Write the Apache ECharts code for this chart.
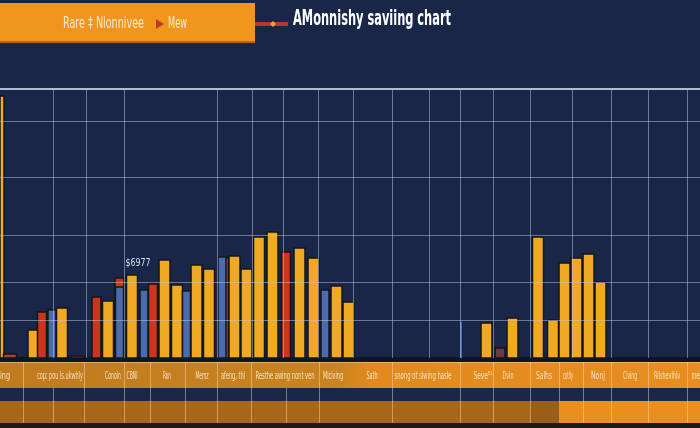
<!DOCTYPE html>
<html><head><meta charset="utf-8">
<script src="https://cdn.jsdelivr.net/npm/echarts@6/dist/echarts.min.js"></script>
<style>html,body{margin:0;padding:0;background:#1a2648;}#c{width:700px;height:428px;}</style>
</head><body><div id="c"></div>
<script>
// ---------- data ----------
const titleText = 'AMonnishy saviing chart';
const bannerText = 'Rare \u2021 Nlonnivee';
const bannerTail = 'Mew';
const noteText = '$6977';
const noteIndex = 11;

// day position on the x scale, saving value, bar kind
const days = [-1.5, 10, 33.5, 42, 52, 62, 77.5, 96.5, 108, 119.5, 119.5, 132, 144, 153, 164.5, 177, 186.5, 196.5, 209, 224, 222, 234.5, 246.5, 259, 272.5, 286, 299.5, 313.5, 325, 336.5, 348.5, 461, 486.5, 500, 512.5, 538, 553, 564.5, 576.5, 588.5, 600.5];
const savings = [262, 4, 28, 46, 48, 50, 2, 61, 57, 80, 71, 83, 68, 74, 98, 73, 67, 93, 89, 100, 101, 102, 89, 121, 126, 106, 110, 100, 68, 72, 56, 36, 35, 10, 40, 121, 38, 95, 100, 104, 76];
const kinds = ['gold','rust','gold','red','blue','gold','rust','red','gold','red','blue','gold','blue','red','gold','gold','blue','gold','gold','red','blue','gold','gold','gold','gold','red','gold','gold','blue','gold','gold','thin','gold','maroon','gold','gold','gold','gold','gold','gold','gold'];

// grid guide values
const hGuides = [38, 76, 123, 181, 237];
const topGuide = 269;
const vGuides = [53, 86, 124, 217, 252, 283, 318, 353, 392, 429, 460, 493, 530, 572, 611, 648, 687];

// table tick labels
const tableLabels = ['ing', 'cop; pou ls.ukwhly', 'Conoin', 'CBNl', 'Ron', 'Memz', 'afeng, thl', 'Resthe awing nont ven', 'Mlciving', 'Sath', 'snong ot siwing hasle', 'Seve\u2075\u00b9', 'Dvln', 'Salhs', 'cotlly', 'Nonj', 'Civing', 'Rilshevihlv', 'men'];

// ---------- layout / style ----------
const labelLayout = [[5,10],[60,46],[113,16],[132,11],[167,8],[202,13],[233,24],[285,59],[333,20],[372,11],[423,57],[483,19],[508,11],[544,16],[568,10],[598,14],[630,14],[667,26],[697,11]];
const tableSeps = [23, 84, 124, 150, 185, 217, 251, 319, 392, 460, 493, 530, 559, 583, 611, 648, 687];
const tableSepsLow = [53, 286];
const KIND_STYLE = {
  gold: {color:'#f0a922', width:11},
  red: {color:'#c9351f', width:9},
  blue: {color:'#4a6cae', width:8},
  rust: {color:'#a4452c', width:13},
  maroon: {color:'#6b3a40', width:10},
  thin: {color:'#4a6cae', width:2}
};
const NARROW = '"Liberation Sans Narrow", "DejaVu Sans Condensed", sans-serif';

const mctx = document.createElement('canvas').getContext('2d');
function fitScale(text, font, w) { mctx.font = font; const m = mctx.measureText(text).width; return m > 0 ? w / m : 1; }

const chart = echarts.init(document.getElementById('c'), null, {renderer:'canvas'});

const graphics = [];
// banner
graphics.push({type:'rect', z:0, shape:{x:0,y:3,width:255,height:40}, style:{fill:'#f0961c'}});
graphics.push({type:'rect', z:0, shape:{x:0,y:41,width:255,height:2}, style:{fill:'#b06a14'}});
const bFont = '15px ' + NARROW;
graphics.push({type:'text', z:1, x:63, y:24, scaleX: fitScale(bannerText, bFont, 81), style:{text:bannerText, font:bFont, fill:'#fde9cc', align:'left', verticalAlign:'middle'}});
graphics.push({type:'polygon', z:1, shape:{points:[[156,19],[164,24],[156,29]]}, style:{fill:'#c0392b'}});
graphics.push({type:'text', z:1, x:168, y:24, scaleX: fitScale(bannerTail, bFont, 19), style:{text:bannerTail, font:bFont, fill:'#fde9cc', align:'left', verticalAlign:'middle'}});
// connector
graphics.push({type:'line', z:1, shape:{x1:255,y1:24,x2:288,y2:24}, style:{stroke:'#b8392a', lineWidth:4}});
graphics.push({type:'polygon', z:2, shape:{points:[[273,21],[276,24],[273,27],[270,24]]}, style:{fill:'#e8a040'}});
// title
const tFont = 'bold 21px ' + NARROW;
graphics.push({type:'text', z:1, x:293, y:20, scaleX: fitScale(titleText, tFont, 158), style:{text:titleText, font:tFont, fill:'#ffffff', align:'left', verticalAlign:'middle'}});

// table
graphics.push({type:'rect', z:0, shape:{x:0,y:357,width:700,height:5}, style:{fill:'#0f1526'}});
graphics.push({type:'rect', z:0, shape:{x:0,y:362,width:700,height:26}, style:{fill:new echarts.graphic.LinearGradient(0,0,1,0,[{offset:0,color:'#bf7b1e'},{offset:0.48,color:'#c98320'},{offset:0.53,color:'#e08a1f'},{offset:1,color:'#e88e20'}])}});
graphics.push({type:'rect', z:0, shape:{x:0,y:362,width:700,height:1}, style:{fill:'rgba(255,220,170,0.5)'}});
graphics.push({type:'rect', z:0, shape:{x:0,y:388,width:700,height:13}, style:{fill:'#1b2748'}});
graphics.push({type:'rect', z:0, shape:{x:0,y:401,width:530,height:22}, style:{fill:'#a8661a'}});
graphics.push({type:'rect', z:0, shape:{x:530,y:401,width:30,height:22}, style:{fill:'#9a5e18'}});
graphics.push({type:'rect', z:0, shape:{x:560,y:401,width:140,height:22}, style:{fill:'#e88f20'}});
graphics.push({type:'rect', z:0, shape:{x:0,y:423,width:700,height:5}, style:{fill:'#1c1c1e'}});
tableSeps.forEach(x => graphics.push({type:'line', z:1, shape:{x1:x+0.5,y1:362,x2:x+0.5,y2:423}, style:{stroke:'rgba(255,225,185,0.45)', lineWidth:1}}));
tableSepsLow.forEach(x => graphics.push({type:'line', z:1, shape:{x1:x+0.5,y1:388,x2:x+0.5,y2:423}, style:{stroke:'rgba(255,225,185,0.45)', lineWidth:1}}));
const lFont = '11px ' + NARROW;
tableLabels.forEach((t, i) => {
  const [cx, w] = labelLayout[i];
  graphics.push({type:'text', z:2, x:cx, y:376, scaleX: fitScale(t, lFont, w), style:{text:t, font:lFont, fill:'#f6e2c4', align:'center', verticalAlign:'middle'}});
});

const option = {
  backgroundColor: '#1a2648',
  animation: false,
  grid: {left:0, right:0, top:89, bottom:70},
  xAxis: {type:'value', min:0, max:700, show:false},
  yAxis: {type:'value', min:0, max:269, show:false},
  graphic: graphics,
  series: [
    {
      type:'line', data:[], z:1, silent:true,
      markLine: {
        silent:true, symbol:['none','none'], label:{show:false}, animation:false,
        data: [
          ...hGuides.map(v => ({yAxis:v, lineStyle:{color:'rgba(190,200,225,0.5)', width:1, type:'solid'}})),
          {yAxis: topGuide, lineStyle:{color:'#e6ecf8', width:1.5, type:'solid'}},
          ...vGuides.map(v => ({xAxis:v, lineStyle:{color:'rgba(190,200,225,0.5)', width:1, type:'solid'}}))
        ]
      }
    },
    {
      type:'custom', z:3,
      data: days.map((d, i) => [d, savings[i]]),
      renderItem: function (params, api) {
        const i = params.dataIndex;
        const k = KIND_STYLE[kinds[i]];
        const top = api.coord([api.value(0), api.value(1)]);
        const base = api.coord([api.value(0), 0]);
        const cs = params.coordSys;
        const rect = echarts.graphic.clipRectByRect(
          {x: top[0] - k.width / 2, y: top[1], width: k.width, height: base[1] - top[1]},
          {x: cs.x, y: cs.y, width: cs.width, height: cs.height});
        if (!rect) return;
        const children = [{type:'rect', shape:rect, style:{fill:k.color, stroke:'#15151c', lineWidth: k.width > 3 ? 1.5 : 0}}];
        if (i === noteIndex) {
          children.push({type:'text', x: top[0] + 6, y: top[1] - 12, scaleX: 0.8, style:{text: noteText, font:'11px ' + NARROW, fill:'#d8dde8', align:'center', verticalAlign:'middle'}});
        }
        return {type:'group', children};
      }
    }
  ]
};
chart.setOption(option);
</script>
</body></html>
